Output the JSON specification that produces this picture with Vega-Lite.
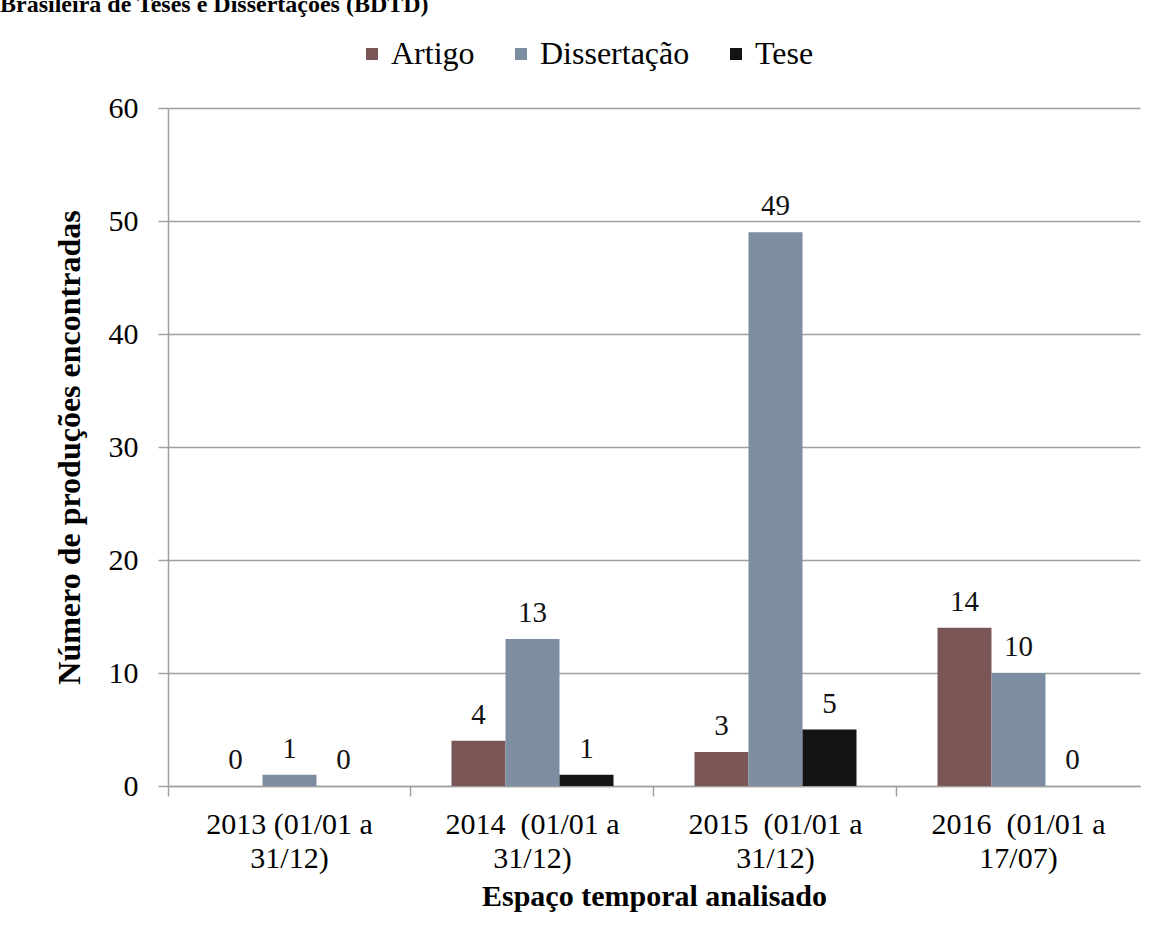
{
  "$schema": "https://vega.github.io/schema/vega-lite/v6.json",
  "width": 972,
  "height": 678,
  "autosize": {"type": "none"},
  "padding": {"left": 168, "top": 108, "right": 28, "bottom": 154},
  "background": "white",
  "title": {
    "text": "Brasileira de Teses e Dissertações (BDTD)",
    "anchor": "start",
    "frame": "group",
    "dx": -168,
    "dy": -11,
    "offset": 10,
    "font": "Liberation Serif, Times New Roman, serif",
    "fontSize": 24,
    "fontWeight": "bold",
    "color": "black"
  },
  "data": {
    "values": [
      {"periodo": "2013 (01/01 a|31/12)", "tipo": "Artigo", "n": 0},
      {"periodo": "2013 (01/01 a|31/12)", "tipo": "Dissertação", "n": 1},
      {"periodo": "2013 (01/01 a|31/12)", "tipo": "Tese", "n": 0},
      {"periodo": "2014  (01/01 a|31/12)", "tipo": "Artigo", "n": 4},
      {"periodo": "2014  (01/01 a|31/12)", "tipo": "Dissertação", "n": 13},
      {"periodo": "2014  (01/01 a|31/12)", "tipo": "Tese", "n": 1},
      {"periodo": "2015  (01/01 a|31/12)", "tipo": "Artigo", "n": 3},
      {"periodo": "2015  (01/01 a|31/12)", "tipo": "Dissertação", "n": 49},
      {"periodo": "2015  (01/01 a|31/12)", "tipo": "Tese", "n": 5},
      {"periodo": "2016  (01/01 a|17/07)", "tipo": "Artigo", "n": 14},
      {"periodo": "2016  (01/01 a|17/07)", "tipo": "Dissertação", "n": 10},
      {"periodo": "2016  (01/01 a|17/07)", "tipo": "Tese", "n": 0}
    ]
  },
  "encoding": {
    "x": {
      "field": "periodo",
      "type": "nominal",
      "sort": null,
      "scale": {"paddingInner": 0.3333, "paddingOuter": 0.1667},
      "axis": {
        "title": "Espaço temporal analisado",
        "labelAngle": 0,
        "labelExpr": "split(replace(datum.value, '  ', ' \u00a0'), '|')",
        "labelFont": "Liberation Serif, Times New Roman, serif",
        "labelFontSize": 30,
        "labelLineHeight": 34,
        "labelLimit": 400,
        "labelColor": "black",
        "labelPadding": 13,
        "bandPosition": -0.25,
        "tickSize": 10,
        "tickColor": "#a0a0a0",
        "tickWidth": 1.5,
        "domainColor": "#a0a0a0",
        "domainWidth": 1.5,
        "titleFont": "Liberation Serif, Times New Roman, serif",
        "titleFontSize": 30,
        "titleFontWeight": "bold",
        "titleColor": "black",
        "titlePadding": 8
      }
    },
    "xOffset": {
      "field": "tipo",
      "type": "nominal",
      "sort": ["Artigo", "Dissertação", "Tese"],
      "scale": {"paddingInner": 0, "paddingOuter": 0}
    },
    "y": {
      "field": "n",
      "type": "quantitative",
      "scale": {"domain": [0, 60], "nice": false},
      "axis": {
        "title": "Número de produções encontradas",
        "values": [0, 10, 20, 30, 40, 50, 60],
        "labelFont": "Liberation Serif, Times New Roman, serif",
        "labelFontSize": 30,
        "labelColor": "black",
        "labelPadding": 20,
        "tickSize": 10,
        "tickColor": "#a0a0a0",
        "tickWidth": 1.5,
        "domainColor": "#a0a0a0",
        "domainWidth": 1.5,
        "gridColor": "#a0a0a0",
        "gridWidth": 1.5,
        "titleFont": "Liberation Serif, Times New Roman, serif",
        "titleFontSize": 32,
        "titleFontWeight": "bold",
        "titleColor": "black",
        "titlePadding": 22
      }
    }
  },
  "layer": [
    {
      "mark": {"type": "bar", "width": {"band": 1}},
      "encoding": {
        "color": {
          "field": "tipo",
          "type": "nominal",
          "sort": ["Artigo", "Dissertação", "Tese"],
          "scale": {
            "domain": ["Artigo", "Dissertação", "Tese"],
            "range": ["#7a5657", "#7d8ea3", "#141414"]
          },
          "legend": {
            "title": null,
            "orient": "none",
            "direction": "horizontal",
            "legendX": 188,
            "legendY": -70,
            "symbolType": "square",
            "symbolSize": 144,
            "symbolStrokeWidth": 0,
            "labelFont": "Liberation Serif, Times New Roman, serif",
            "labelFontSize": 32,
            "labelColor": "black",
            "labelOffset": 3,
            "columnPadding": 30
          }
        }
      }
    },
    {
      "mark": {
        "type": "text",
        "baseline": "alphabetic",
        "dy": -17,
        "font": "Liberation Serif, Times New Roman, serif",
        "fontSize": 29,
        "color": "#111"
      },
      "encoding": {
        "text": {"field": "n", "type": "quantitative"}
      }
    }
  ],
  "config": {
    "font": "Liberation Serif, Times New Roman, serif",
    "view": {"stroke": null}
  }
}
